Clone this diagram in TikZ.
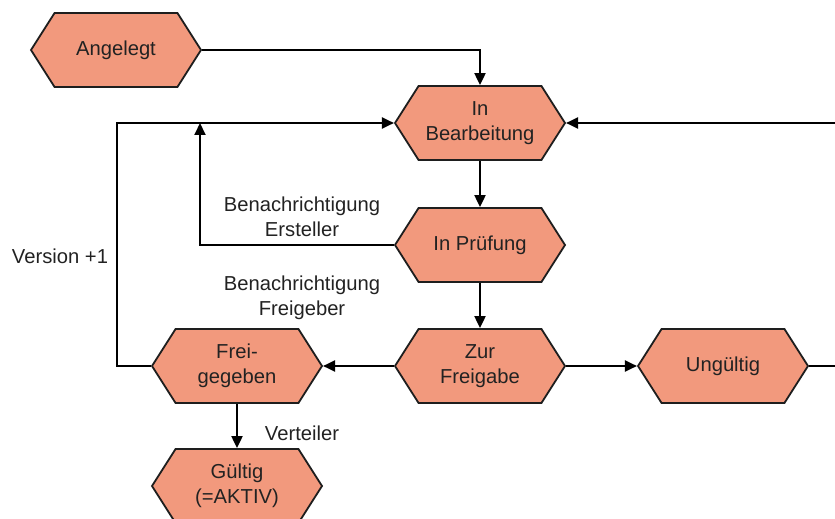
\documentclass[tikz,border=0pt]{standalone}
\usepackage{fontspec}
\setmainfont{Liberation Sans}
\usetikzlibrary{shapes.symbols,arrows.meta}
\definecolor{hexfill}{HTML}{F2997D}
\definecolor{hexline}{HTML}{1E1E1E}
\definecolor{txt}{HTML}{222222}
\begin{document}
\begin{tikzpicture}[x=0.5pt,y=-0.5pt,
  hexa/.style={shape=signal, signal to=east and west, signal pointer angle=115,
    draw=hexline, fill=hexfill, line width=0.9pt, minimum width=85pt, minimum height=37pt,
    inner sep=0pt, align=center, text=txt, font=\fontsize{10.1}{12.5}\selectfont},
  lbl/.style={align=center, text=txt, font=\fontsize{10.1}{12.5}\selectfont, inner sep=0pt},
  conn/.style={line width=1pt, draw=black},
  arr/.style={conn, -{Triangle[length=6pt,width=5.5pt]}}]
\useasboundingbox (0,0) rectangle (835,519);
\clip (0,0) rectangle (835,519);
\node[hexa] (ang) at (116,50) {Angelegt};
\node[hexa] (inb) at (480,123) {In\\Bearbeitung};
\node[hexa] (ip) at (480,245) {In Prüfung};
\node[hexa] (zf) at (480,366) {Zur\\Freigabe};
\node[hexa] (ung) at (723,366) {Ungültig};
\node[hexa] (fg) at (237,366) {Frei-\\gegeben};
\node[hexa] (gue) at (237,486) {Gültig\\(=AKTIV)};
\coordinate (v1) at (117,366);
\coordinate (e1) at (200,245);
\coordinate (e2) at (200,123);
\coordinate (r1) at (860,366);
\node[lbl] (lv) at (60,256) {Version +1};
\node[lbl] (le) at (302,217) {Benachrichtigung\\Ersteller};
\node[lbl] (lf) at (302,298) {Benachrichtigung\\Freigeber};
\node[lbl] (lvt) at (302,433) {Verteiler};
\draw[arr] (ang.east) -| (inb.north);
\draw[arr] (inb.south) -- (ip.north);
\draw[arr] (ip.south) -- (zf.north);
\draw[arr] (zf.west) -- (fg.east);
\draw[arr] (zf.east) -- (ung.west);
\draw[arr] (fg.south) -- (gue.north);
\draw[arr] (fg.west) -- (v1) |- (inb.west);
\draw[arr] (ip.west) -- (e1) -- (e2);
\draw[arr] (ung.east) -- (r1) |- (inb.east);
\end{tikzpicture}
\end{document}
